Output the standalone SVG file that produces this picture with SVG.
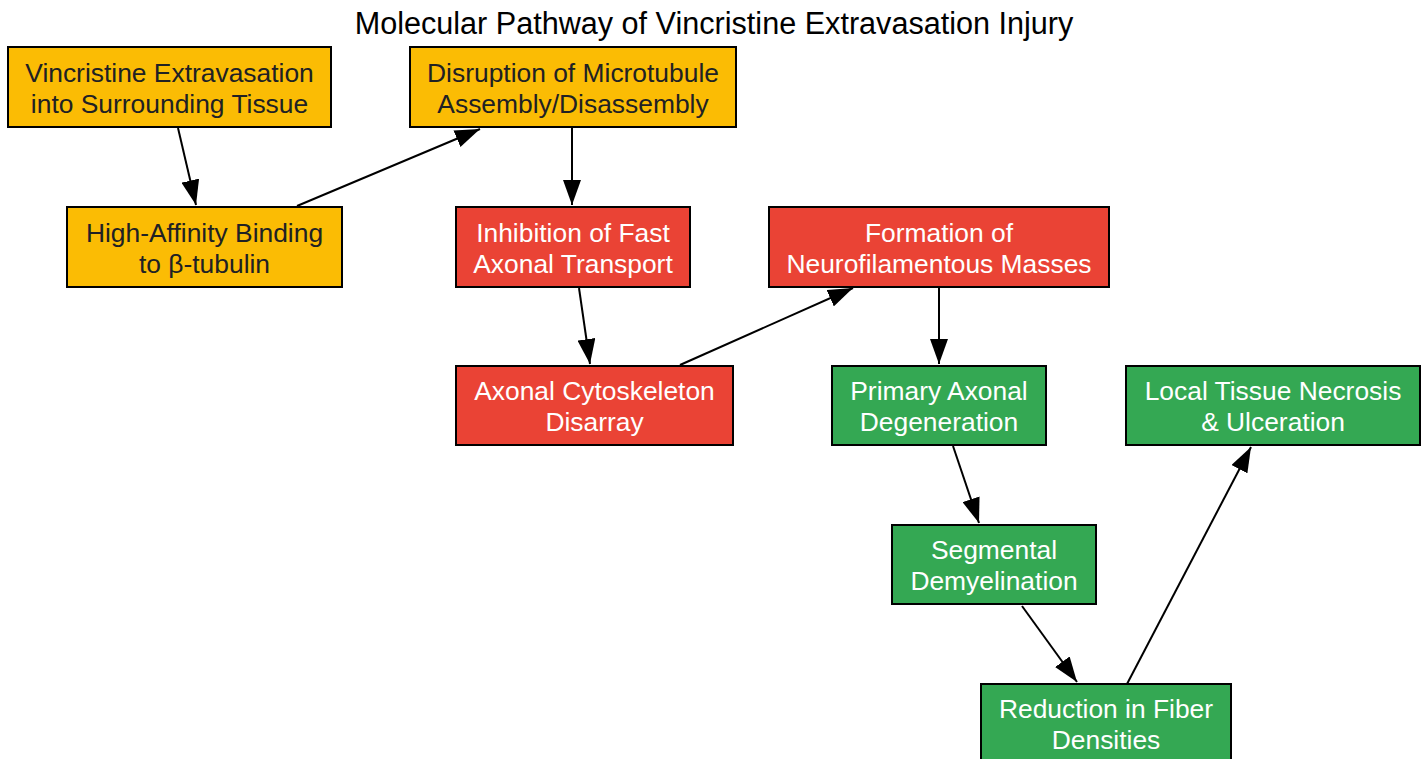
<svg xmlns="http://www.w3.org/2000/svg" width="1428" height="759" viewBox="0 0 1428 759">
<style>
.box{stroke:#000;stroke-width:2}
.y{fill:#FBBC04}.r{fill:#EA4335}.g{fill:#34A853}
text{font-family:"Liberation Sans",Arial,sans-serif;font-size:26.4px;text-anchor:middle}
.dk{fill:#202124}.wt{fill:#fff}
.e{stroke:#000;stroke-width:2;fill:none;marker-end:url(#ah)}
</style>
<defs>
<marker id="ah" markerUnits="userSpaceOnUse" markerWidth="26" markerHeight="18" refX="25" refY="9" orient="auto">
<path d="M0,0 L25,9 L0,18 Z" fill="#000"/>
</marker>
</defs>
<rect width="1428" height="759" fill="#fff"/>
<text x="714" y="33.5" style="font-size:30.6px" fill="#000">Molecular Pathway of Vincristine Extravasation Injury</text>
<g id="edges">
<line class="e" x1="178" y1="128" x2="196" y2="205"/>
<line class="e" x1="297" y1="206" x2="480" y2="129"/>
<line class="e" x1="572" y1="128" x2="572" y2="205"/>
<line class="e" x1="579" y1="288" x2="590" y2="364"/>
<line class="e" x1="680" y1="365" x2="853" y2="288"/>
<line class="e" x1="939" y1="288" x2="939" y2="364"/>
<line class="e" x1="953" y1="446" x2="979" y2="523"/>
<line class="e" x1="1022" y1="606" x2="1077" y2="682"/>
<line class="e" x1="1127" y1="684" x2="1251" y2="447"/>
</g>
<g id="n1"><rect class="box y" x="8" y="47" width="323" height="80"/><text class="dk" x="169.5" y="82">Vincristine Extravasation</text><text class="dk" x="169.5" y="113">into Surrounding Tissue</text></g>
<g id="n2"><rect class="box y" x="67" y="207" width="275" height="80"/><text class="dk" x="204.5" y="242">High-Affinity Binding</text><text class="dk" x="204.5" y="273">to β-tubulin</text></g>
<g id="n3"><rect class="box y" x="410" y="47" width="326" height="80"/><text class="dk" x="573" y="82">Disruption of Microtubule</text><text class="dk" x="573" y="113">Assembly/Disassembly</text></g>
<g id="n4"><rect class="box r" x="456" y="207" width="234" height="80"/><text class="wt" x="573" y="242">Inhibition of Fast</text><text class="wt" x="573" y="273">Axonal Transport</text></g>
<g id="n5"><rect class="box r" x="769" y="207" width="340" height="80"/><text class="wt" x="939" y="242">Formation of</text><text class="wt" x="939" y="273">Neurofilamentous Masses</text></g>
<g id="n6"><rect class="box r" x="456" y="366" width="277" height="79"/><text class="wt" x="594.5" y="400">Axonal Cytoskeleton</text><text class="wt" x="594.5" y="431">Disarray</text></g>
<g id="n7"><rect class="box g" x="832" y="366" width="214" height="79"/><text class="wt" x="939" y="400">Primary Axonal</text><text class="wt" x="939" y="431">Degeneration</text></g>
<g id="n8"><rect class="box g" x="1126" y="366" width="294" height="79"/><text class="wt" x="1273" y="400">Local Tissue Necrosis</text><text class="wt" x="1273" y="431">&amp; Ulceration</text></g>
<g id="n9"><rect class="box g" x="892" y="525" width="204" height="79"/><text class="wt" x="994" y="559">Segmental</text><text class="wt" x="994" y="590">Demyelination</text></g>
<g id="n10"><rect class="box g" x="981" y="684" width="250" height="80"/><text class="wt" x="1106" y="718">Reduction in Fiber</text><text class="wt" x="1106" y="749">Densities</text></g>
</svg>
